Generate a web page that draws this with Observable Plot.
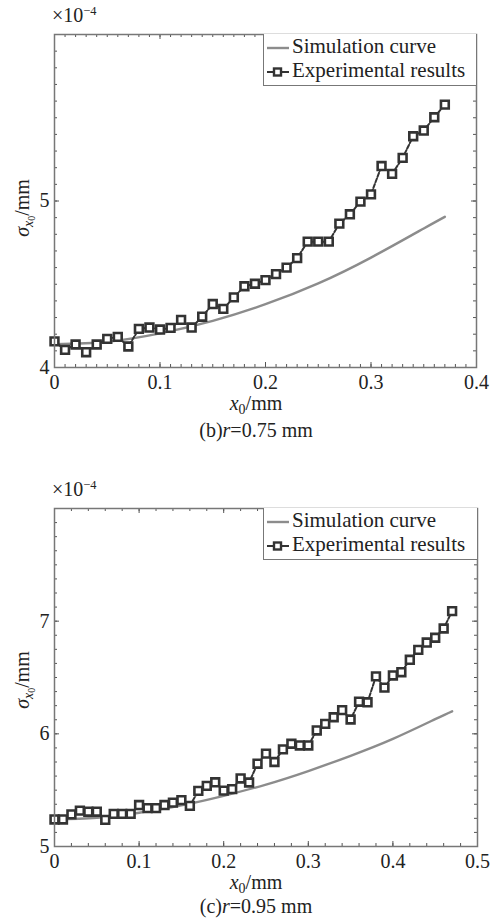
<!DOCTYPE html>
<html><head><meta charset="utf-8">
<script src="https://cdn.jsdelivr.net/npm/d3@7"></script>
<script src="https://cdn.jsdelivr.net/npm/@observablehq/plot@0.6"></script>
<style>
body{margin:0;background:#fff;}
#wrap{position:relative;width:491px;height:923px;font-family:"Liberation Serif","Times New Roman",serif;color:#222;overflow:hidden;}
.abs{position:absolute;white-space:nowrap;}
.t20{font-size:20px;line-height:20px;}
.leg{position:absolute;background:#fff;border-left:1.5px solid #777;border-bottom:1.5px solid #777;box-sizing:border-box;}
.row{position:absolute;left:3px;font-size:21px;line-height:21px;white-space:nowrap;}
.row svg{vertical-align:middle;margin-right:3px;}
sub{font-size:0.7em;vertical-align:-0.25em;line-height:0;}
sup{font-size:0.62em;vertical-align:0.55em;line-height:0;}
</style></head><body><div id="wrap"></div>
<script>
// ---- chart (b) r = 0.75 mm ----
const expXb = [0,0.01,0.02,0.03,0.04,0.05,0.06,0.07,0.08,0.09,0.10,0.11,0.12,0.13,0.14,0.15,0.16,0.17,0.18,0.19,0.20,0.21,0.22,0.23,0.24,0.25,0.26,0.27,0.28,0.29,0.30,0.31,0.32,0.33,0.34,0.35,0.36,0.37];
const expYb = [4.157,4.106,4.138,4.092,4.138,4.172,4.184,4.126,4.232,4.240,4.228,4.238,4.286,4.240,4.305,4.381,4.352,4.421,4.488,4.503,4.525,4.561,4.600,4.657,4.756,4.756,4.756,4.864,4.920,4.996,5.040,5.210,5.163,5.259,5.389,5.423,5.503,5.579];
const simXb = [0,0.05,0.10,0.15,0.20,0.25,0.30,0.35,0.37];
const simYb = [4.14,4.155,4.205,4.28,4.38,4.505,4.66,4.835,4.905];
const xTicksB = [0,0.1,0.2,0.3,0.4];
const yTicksB = [4,5];

// ---- chart (c) r = 0.95 mm ----
const expXc = [0,0.01,0.02,0.03,0.04,0.05,0.06,0.07,0.08,0.09,0.10,0.11,0.12,0.13,0.14,0.15,0.16,0.17,0.18,0.19,0.20,0.21,0.22,0.23,0.24,0.25,0.26,0.27,0.28,0.29,0.30,0.31,0.32,0.33,0.34,0.35,0.36,0.37,0.38,0.39,0.40,0.41,0.42,0.43,0.44,0.45,0.46,0.47];
const expYc = [5.240,5.240,5.285,5.318,5.309,5.309,5.236,5.290,5.290,5.290,5.368,5.341,5.341,5.368,5.389,5.412,5.361,5.494,5.538,5.570,5.496,5.509,5.604,5.568,5.735,5.824,5.750,5.862,5.912,5.897,5.897,6.030,6.088,6.147,6.210,6.127,6.285,6.280,6.510,6.410,6.518,6.547,6.657,6.745,6.810,6.853,6.935,7.089];
const simXc = [0,0.05,0.10,0.15,0.20,0.25,0.30,0.35,0.40,0.45,0.47];
const simYc = [5.24,5.255,5.30,5.365,5.45,5.55,5.67,5.805,5.955,6.13,6.20];
const xTicksC = [0,0.1,0.2,0.3,0.4,0.5];
const yTicksC = [5,6,7];

const legendLabels = ["Simulation curve", "Experimental results"];
const captions = ["(b)<i>r</i>=0.75 mm", "(c)<i>r</i>=0.95 mm"];

const wrap = document.getElementById("wrap");

function steps(a, b, s) {
  const n = Math.round((b - a) / s);
  return Array.from({length: n + 1}, (_, i) => +(a + i * s).toFixed(6));
}

function chart(o) {
  const W = 491, ml = 54, mr = o.mr, mt = 34, mb = o.mb, H = o.height;
  const pw = W - ml - mr, ph = H - mt - mb;
  const exp = o.expX.map((x, i) => ({x, y: o.expY[i]}));
  const sim = o.simX.map((x, i) => ({x, y: o.simY[i]}));
  const xMinor = steps(o.xDomain[0], o.xDomain[1], o.xMinor);
  const yMinor = steps(o.yDomain[0], o.yDomain[1], o.yMinor);
  const xMaj = steps(o.xDomain[0], o.xDomain[1], 0.1);
  const yMaj = steps(o.yDomain[0], o.yDomain[1], 1);
  const tk = {stroke: "#555", strokeWidth: 1};
  const svg = Plot.plot({
    width: W, height: H,
    marginLeft: ml, marginRight: mr, marginTop: mt, marginBottom: mb,
    style: {fontFamily: '"Liberation Serif","Times New Roman",serif', fontSize: "20px", color: "#222", background: "transparent", overflow: "visible"},
    x: {domain: o.xDomain, axis: null},
    y: {domain: o.yDomain, axis: null},
    marks: [
      Plot.tickX(xMinor, {x: d => d, insetTop: ph - 3, ...tk}),
      Plot.tickX(xMinor, {x: d => d, insetBottom: ph - 3, ...tk}),
      Plot.tickX(xMaj, {x: d => d, insetTop: ph - 5, ...tk}),
      Plot.tickX(xMaj, {x: d => d, insetBottom: ph - 5, ...tk}),
      Plot.tickY(yMinor, {y: d => d, insetRight: pw - 3, ...tk}),
      Plot.tickY(yMinor, {y: d => d, insetLeft: pw - 3, ...tk}),
      Plot.tickY(yMaj, {y: d => d, insetRight: pw - 5, ...tk}),
      Plot.tickY(yMaj, {y: d => d, insetLeft: pw - 5, ...tk}),
      Plot.line(sim, {x: "x", y: "y", curve: "natural", stroke: "#8c8c8c", strokeWidth: 2.4}),
      Plot.line(exp, {x: "x", y: "y", stroke: "#333", strokeWidth: 2, strokeDasharray: "4,2"}),
      Plot.dot(exp, {x: "x", y: "y", symbol: "square", r: 4.4, stroke: "#333", strokeWidth: 2.6, fill: "white"}),
      Plot.frame({stroke: "#777", strokeWidth: 1.5}),
      Plot.axisX({ticks: o.xTicks, tickSize: 0, tickPadding: 7, tickFormat: d => String(d), label: null}),
      Plot.axisY({ticks: o.yTicks, tickSize: 0, tickPadding: 5, tickFormat: d => String(d), label: null})
    ]
  });
  svg.style.position = "absolute";
  svg.style.left = "0px";
  svg.style.top = o.top + "px";
  wrap.appendChild(svg);

  const top = o.top;
  const frameTop = top + mt;
  const mul = document.createElement("div");
  mul.className = "abs t20";
  mul.style.left = "52px"; mul.style.top = (frameTop - 29) + "px";
  mul.innerHTML = "×10<sup>−4</sup>";
  wrap.appendChild(mul);
  const yl = document.createElement("div");
  yl.className = "abs t20";
  yl.style.left = "22px"; yl.style.top = o.ylabelY + "px";
  yl.style.transform = "translate(-50%,-50%) rotate(-90deg)";
  yl.innerHTML = "<i>σ</i><sub><i>x</i><sub>0</sub></sub>/mm";
  wrap.appendChild(yl);
  const xl = document.createElement("div");
  xl.className = "abs t20";
  xl.style.left = "156px"; xl.style.width = "200px"; xl.style.textAlign = "center";
  xl.style.top = (o.xlabelY - 10) + "px";
  xl.innerHTML = "<i>x</i><sub>0</sub>/mm";
  wrap.appendChild(xl);
  const cap = document.createElement("div");
  cap.className = "abs t20";
  cap.style.left = "156px"; cap.style.width = "200px"; cap.style.textAlign = "center";
  cap.style.top = (o.capY - 10) + "px";
  cap.innerHTML = o.caption;
  wrap.appendChild(cap);
  const leg = document.createElement("div");
  leg.className = "leg";
  leg.style.left = "263px"; leg.style.top = frameTop + "px";
  leg.style.width = (W - mr - 263) + "px"; leg.style.height = "52px";
  leg.innerHTML =
    `<div class="row" style="top:2px"><svg width="22" height="10"><line x1="0" y1="5" x2="22" y2="5" stroke="#8c8c8c" stroke-width="2.4"/></svg>${legendLabels[0]}</div>` +
    `<div class="row" style="top:26px"><svg width="22" height="10"><line x1="0" y1="5" x2="22" y2="5" stroke="#333" stroke-width="2"/><rect x="7" y="1.5" width="7" height="7" fill="#fff" stroke="#333" stroke-width="2.4"/></svg>${legendLabels[1]}</div>`;
  wrap.appendChild(leg);
}

chart({top: 0, height: 391, mb: 24, mr: 15, expX: expXb, expY: expYb, simX: simXb, simY: simYb,
  xDomain: [0, 0.4], yDomain: [4, 6], xTicks: xTicksB, yTicks: yTicksB, xMinor: 0.01, yMinor: 0.1,
  ylabelY: 208, xlabelY: 403, capY: 430, caption: captions[0]});
chart({top: 474, height: 396, mb: 24, mr: 14, expX: expXc, expY: expYc, simX: simXc, simY: simYc,
  xDomain: [0, 0.5], yDomain: [5, 8], xTicks: xTicksC, yTicks: yTicksC, xMinor: 0.02, yMinor: 0.125,
  ylabelY: 680, xlabelY: 882, capY: 906, caption: captions[1]});
</script>
</body></html>
